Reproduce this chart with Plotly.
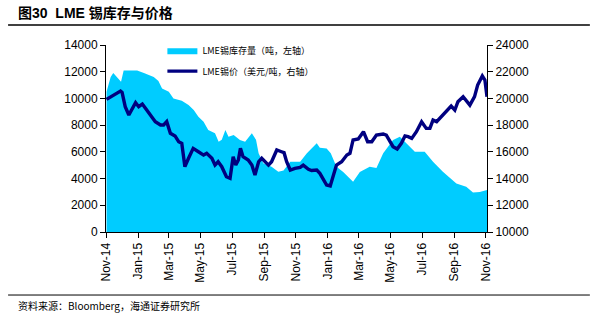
import plotly.graph_objects as go

# LME tin inventory (tonnes, left axis)
inv_dates = ["2014-11-01","2014-11-09","2014-11-14","2014-11-29","2014-12-04","2014-12-30",
             "2015-01-12","2015-01-31","2015-02-09","2015-02-16","2015-03-01","2015-03-10",
             "2015-03-26","2015-04-08","2015-04-18","2015-04-27","2015-05-07","2015-05-16",
             "2015-05-29","2015-06-05","2015-06-11","2015-06-18","2015-06-24","2015-07-04",
             "2015-07-16","2015-07-26","2015-08-08","2015-08-16","2015-08-21","2015-08-30",
             "2015-09-15","2015-09-28","2015-10-08","2015-10-21","2015-11-09","2015-11-22",
             "2015-12-11","2015-12-17","2015-12-30","2016-01-07","2016-01-18","2016-01-31",
             "2016-02-19","2016-03-03","2016-03-22","2016-04-04","2016-04-17","2016-05-06",
             "2016-05-19","2016-06-01","2016-06-17","2016-07-06","2016-07-22","2016-08-10",
             "2016-08-23","2016-09-05","2016-09-24","2016-10-07","2016-10-20","2016-10-30",
             "2016-11-03"]
inv_values = [10500,11600,11900,11250,12100,12100,
              11900,11600,11300,10750,10500,10000,
              9830,9500,9130,8630,8250,7630,
              7390,6760,6900,7630,7130,7260,
              6890,6760,7390,6900,5890,5140,
              4890,4510,4600,5260,5260,5890,
              6640,6300,6260,5900,4890,4500,
              3770,4500,4890,4800,5890,6890,
              7130,6640,6010,6010,5260,4510,
              4100,3640,3390,2950,3000,3140,
              3150]

# LME tin price (USD/t, right axis)
px_dates = ["2014-11-01","2014-11-09","2014-11-22","2014-11-28","2014-12-01","2014-12-07",
            "2014-12-14","2014-12-20","2014-12-27","2015-01-02","2015-01-09","2015-01-15",
            "2015-01-25","2015-02-03","2015-02-13","2015-02-19","2015-02-25","2015-03-04",
            "2015-03-13","2015-03-20","2015-03-26","2015-04-01","2015-04-08","2015-04-17",
            "2015-04-27","2015-05-07","2015-05-13","2015-05-23","2015-05-29","2015-06-04",
            "2015-06-11","2015-06-20","2015-06-27","2015-07-03","2015-07-08","2015-07-13",
            "2015-07-17","2015-07-22","2015-08-01","2015-08-08","2015-08-14","2015-08-21",
            "2015-08-27","2015-09-02","2015-09-09","2015-09-15","2015-09-25","2015-10-04",
            "2015-10-09","2015-10-14","2015-10-21","2015-10-30","2015-11-09","2015-11-15",
            "2015-11-25","2015-12-01","2015-12-11","2015-12-17","2015-12-23","2015-12-30",
            "2016-01-06","2016-01-11","2016-01-18","2016-01-28","2016-02-07","2016-02-13",
            "2016-02-19","2016-02-29","2016-03-10","2016-03-18","2016-03-26","2016-04-04",
            "2016-04-17","2016-04-23","2016-04-30","2016-05-06","2016-05-14","2016-05-22",
            "2016-05-29","2016-06-04","2016-06-11","2016-06-20","2016-06-30","2016-07-09",
            "2016-07-16","2016-07-22","2016-07-29","2016-08-07","2016-08-17","2016-08-26",
            "2016-09-02","2016-09-08","2016-09-18","2016-09-24","2016-10-01","2016-10-10",
            "2016-10-16","2016-10-25","2016-10-30","2016-11-03"]
px_values = [19930,20130,20380,20550,20450,19380,
             18760,19130,19680,19380,19580,19260,
             18760,18260,18010,18010,18260,17390,
             17190,16760,16640,14890,15520,16260,
             16010,15760,15890,15520,15010,15260,
             14890,14140,14020,15640,15010,15390,
             16260,15640,15390,15010,14270,15260,
             15520,15260,15010,15260,16140,16010,
             15940,15260,14640,14760,14840,15010,
             14690,14600,14640,14390,14020,13520,
             13450,14140,15010,15260,15760,15890,
             16890,16960,17510,16760,16760,17260,
             17340,17260,16760,16390,16210,16640,
             17190,17140,17010,17510,18260,17760,
             17760,18380,18260,18630,19130,19430,
             19130,19750,20130,19880,19500,20130,
             21000,21680,21380,20130]

left_ticks = [0, 2000, 4000, 6000, 8000, 10000, 12000, 14000]
right_ticks = [10000, 12000, 14000, 16000, 18000, 20000, 22000, 24000]

title_text = "<b>图30  LME 锡库存与价格</b>"
source_text = "资料来源：Bloomberg，海通证券研究所"
inv_name = "LME锡库存量（吨，左轴）"
px_name = "LME锡价（美元/吨，右轴）"

FONT = "Arial, 'Liberation Sans', 'Noto Sans CJK SC', sans-serif"
CJK = "'Noto Sans CJK SC', 'Liberation Sans', sans-serif"

fig = go.Figure()
fig.add_trace(go.Scatter(
    x=inv_dates, y=inv_values, name=inv_name, mode="lines",
    fill="tozeroy", fillcolor="#00CCFF", line=dict(width=0, color="#00CCFF"),
    legendgroup="a", yaxis="y"))
fig.add_trace(go.Scatter(
    x=px_dates, y=px_values, name=px_name, mode="lines",
    line=dict(width=3.4, color="#000080"),
    legendgroup="b", yaxis="y2"))

axis_common = dict(showgrid=False, zeroline=False, showline=True, linecolor="black",
                   linewidth=1, ticks="outside", ticklen=5, tickcolor="black",
                   tickfont=dict(family=FONT, size=12, color="black"))

fig.update_layout(
    width=598, height=324,
    margin=dict(l=106, r=111, t=45, b=92),
    paper_bgcolor="white", plot_bgcolor="white",
    showlegend=True,
    legend=dict(x=0.148, y=1.05, xanchor="left", yanchor="top",
                bgcolor="rgba(0,0,0,0)", traceorder="grouped", tracegroupgap=2,
                font=dict(family=CJK, size=9, color="black")),
    xaxis=dict(type="date", range=["2014-10-31", "2016-11-03"],
               tick0="2014-11-01", dtick="M2", tickformat="%b-%y", tickangle=-90,
               **axis_common),
    yaxis=dict(range=[0, 14000], tickvals=left_ticks, tickformat="d", **axis_common),
    yaxis2=dict(range=[10000, 24000], tickvals=right_ticks, tickformat="d",
                overlaying="y", side="right", **axis_common),
    annotations=[
        dict(text=title_text, xref="paper", yref="paper", x=-0.236, y=1.171,
             xanchor="left", yanchor="middle", showarrow=False,
             font=dict(family=FONT, size=14, color="black")),
        dict(text=source_text, xref="paper", yref="paper", x=-0.236, y=-0.393,
             xanchor="left", yanchor="middle", showarrow=False,
             font=dict(family=CJK, size=10, color="black")),
    ],
    shapes=[
        dict(type="line", xref="paper", yref="paper", x0=-0.257, x1=1.27,
             y0=1.107, y1=1.107, line=dict(color="black", width=1.5)),
        dict(type="line", xref="paper", yref="paper", x0=-0.257, x1=1.27,
             y0=-0.337, y1=-0.337, line=dict(color="black", width=1)),
    ],
)

fig.write_html("out.html")
